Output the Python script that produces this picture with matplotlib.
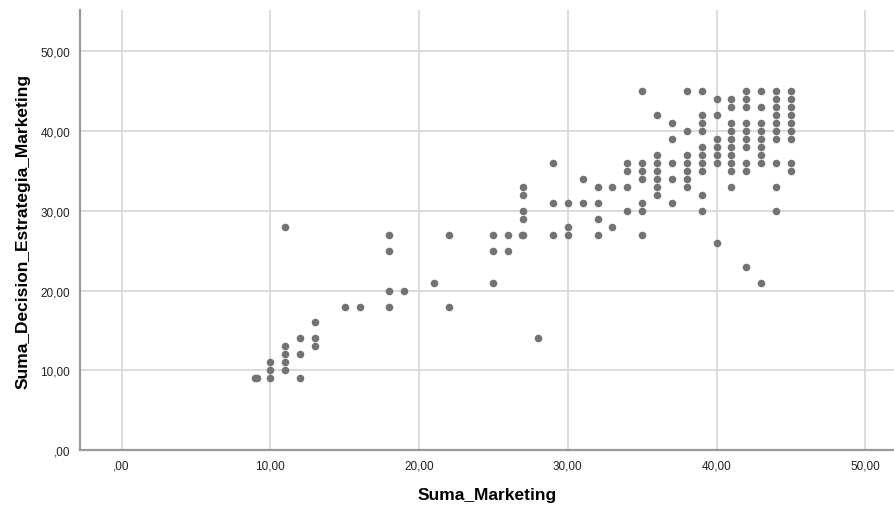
import matplotlib
matplotlib.use("Agg")
import matplotlib.pyplot as plt
from matplotlib.ticker import FuncFormatter, MultipleLocator

# Suma_Marketing (x) vs Suma_Decision_Estrategia_Marketing (y)
suma_marketing = [
    9, 9.1,
    10, 10, 10,
    11, 11, 11, 11, 11,
    12, 12, 12,
    13, 13, 13,
    15, 16,
    18, 18, 18, 18,
    19, 21, 22, 22,
    25, 25, 25, 26, 26,
    26.9, 27, 27, 27, 27, 27,
    28,
    29, 29, 29,
    30, 30, 30,
    31, 31,
    32, 32, 32, 32,
    33, 33,
    34, 34, 34, 34,
    35, 35, 35, 35, 35, 35, 35,
    36, 36, 36, 36, 36, 36, 36,
    37, 37, 37, 37, 37,
    38, 38, 38, 38, 38, 38, 38,
    39, 39, 39, 39, 39, 39, 39, 39, 39, 39,
    40, 40, 40, 40, 40, 40, 40,
    41, 41, 41, 41, 41, 41, 41, 41, 41, 41,
    42, 42, 42, 42, 42, 42, 42, 42, 42, 42,
    43, 43, 43, 43, 43, 43, 43, 43, 43,
    44, 44, 44, 44, 44, 44, 44, 44, 44, 44,
    45, 45, 45, 45, 45, 45, 45, 45, 45,
]
suma_decision = [
    9, 9,
    9, 10, 11,
    10, 11, 12, 13, 28,
    9, 12, 14,
    13, 14, 16,
    18, 18,
    18, 20, 25, 27,
    20, 21, 18, 27,
    21, 25, 27, 25, 27,
    27, 27, 29, 30, 32, 33,
    14,
    27, 31, 36,
    27, 28, 31,
    31, 34,
    27, 29, 31, 33,
    28, 33,
    30, 33, 35, 36,
    27, 30, 31, 34, 35, 36, 45,
    32, 33, 34, 35, 36, 37, 42,
    31, 34, 36, 39, 41,
    33, 34, 35, 36, 37, 40, 45,
    30, 32, 35, 36, 37, 38, 40, 41, 42, 45,
    26, 36, 37, 38, 39, 42, 44,
    33, 35, 36, 37, 38, 39, 40, 41, 43, 44,
    23, 35, 36, 38, 39, 40, 41, 43, 44, 45,
    21, 36, 37, 38, 39, 40, 41, 43, 45,
    30, 33, 36, 39, 40, 41, 42, 43, 44, 45,
    35, 36, 39, 40, 41, 42, 43, 44, 45,
]

plt.rcParams["font.family"] = ["Liberation Sans", "DejaVu Sans"]


def fmt_coma(v, pos):
    s = f"{v:.2f}".replace(".", ",")
    if s.startswith("0"):
        s = s[1:]
    return s


fig = plt.figure(figsize=(8.95, 5.06), dpi=100)
ax = fig.add_axes([80 / 895, 55 / 506, 815 / 895, 440 / 506])

ax.scatter(suma_marketing, suma_decision, s=30, color="#737373", linewidths=0, zorder=3)

ax.set_xlim(-2.8, 52.0)
ax.set_ylim(0, 55.2)
ax.xaxis.set_major_locator(MultipleLocator(10))
ax.yaxis.set_major_locator(MultipleLocator(10))
ax.xaxis.set_major_formatter(FuncFormatter(fmt_coma))
ax.yaxis.set_major_formatter(FuncFormatter(fmt_coma))
ax.grid(True, color="#d6d6d6", linewidth=1.2, zorder=0)
ax.set_axisbelow(True)
ax.tick_params(length=0, labelsize=8.5, colors="#222222", pad=7)

for side in ["top", "right"]:
    ax.spines[side].set_visible(False)
for side in ["left", "bottom"]:
    ax.spines[side].set_color("#9a9a9a")
    ax.spines[side].set_linewidth(1.6)

ax.set_xlabel("Suma_Marketing", fontsize=12.5, fontweight="bold", labelpad=11)
ax.set_ylabel("Suma_Decision_Estrategia_Marketing", fontsize=12.5, fontweight="bold", labelpad=7)

fig.savefig("out.png", dpi=100)
